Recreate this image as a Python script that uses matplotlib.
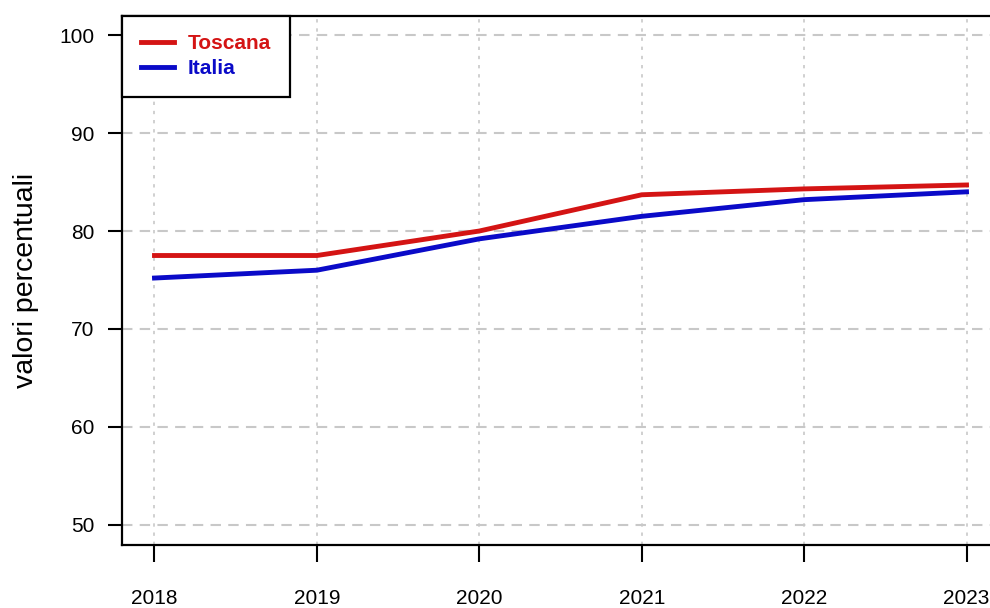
import matplotlib.pyplot as plt
import numpy as np

plt.rcParams['font.family'] = ['Liberation Sans', 'DejaVu Sans']

anni = [2018, 2019, 2020, 2021, 2022, 2023]
toscana = [77.5, 77.5, 80.0, 83.7, 84.3, 84.7]
italia = [75.2, 76.0, 79.2, 81.5, 83.2, 84.0]
y_ticks = [50, 60, 70, 80, 90, 100]

col_tos = '#d41414'
col_ita = '#0a0ac8'

fig = plt.figure(figsize=(9.9, 6.08), dpi=100)
ax = fig.add_axes([122 / 990, 1 - 544.5 / 608, 877 / 990, 529 / 608])

# griglia tratteggiata come in R
for y in y_ticks:
    ax.axhline(y, color='#c8c8c8', lw=1.5, ls=(0, (5, 3.5)), zorder=0)
for x in anni:
    ax.axvline(x, color='#c8c8c8', lw=1.2, ls=(0, (2, 3.5)), zorder=0)

ax.plot(anni, toscana, color=col_tos, lw=3.5, label='Toscana', zorder=3)
ax.plot(anni, italia, color=col_ita, lw=3.5, label='Italia', zorder=3)

ax.set_xlim(2017.8, 2023.2)
ax.set_ylim(48, 102)
ax.set_xticks(anni)
ax.set_yticks(y_ticks)
ax.tick_params(axis='x', length=12, width=1.5, pad=20, labelsize=15)
ax.tick_params(axis='y', length=10, width=1.5, pad=10, labelsize=15)
for s in ax.spines.values():
    s.set_linewidth(1.6)
ax.spines['right'].set_visible(False)

ax.set_ylabel('valori percentuali', fontsize=20.5)
ax.yaxis.set_label_coords(-0.095, 0.5)

leg = ax.legend(loc='upper left', bbox_to_anchor=(0, 1), borderaxespad=0,
                fancybox=False, edgecolor='black', framealpha=1,
                prop={'weight': 'bold', 'size': 15}, handlelength=1.6,
                borderpad=0.9, labelspacing=0.3, handletextpad=0.65)
leg.get_frame().set_linewidth(1.6)
leg.get_frame().set_boxstyle('square', pad=0)
leg.get_texts()[0].set_color(col_tos)
leg.get_texts()[1].set_color(col_ita)
for h in leg.get_lines():
    h.set_linewidth(3.5)

fig.savefig('out.png', dpi=100)
